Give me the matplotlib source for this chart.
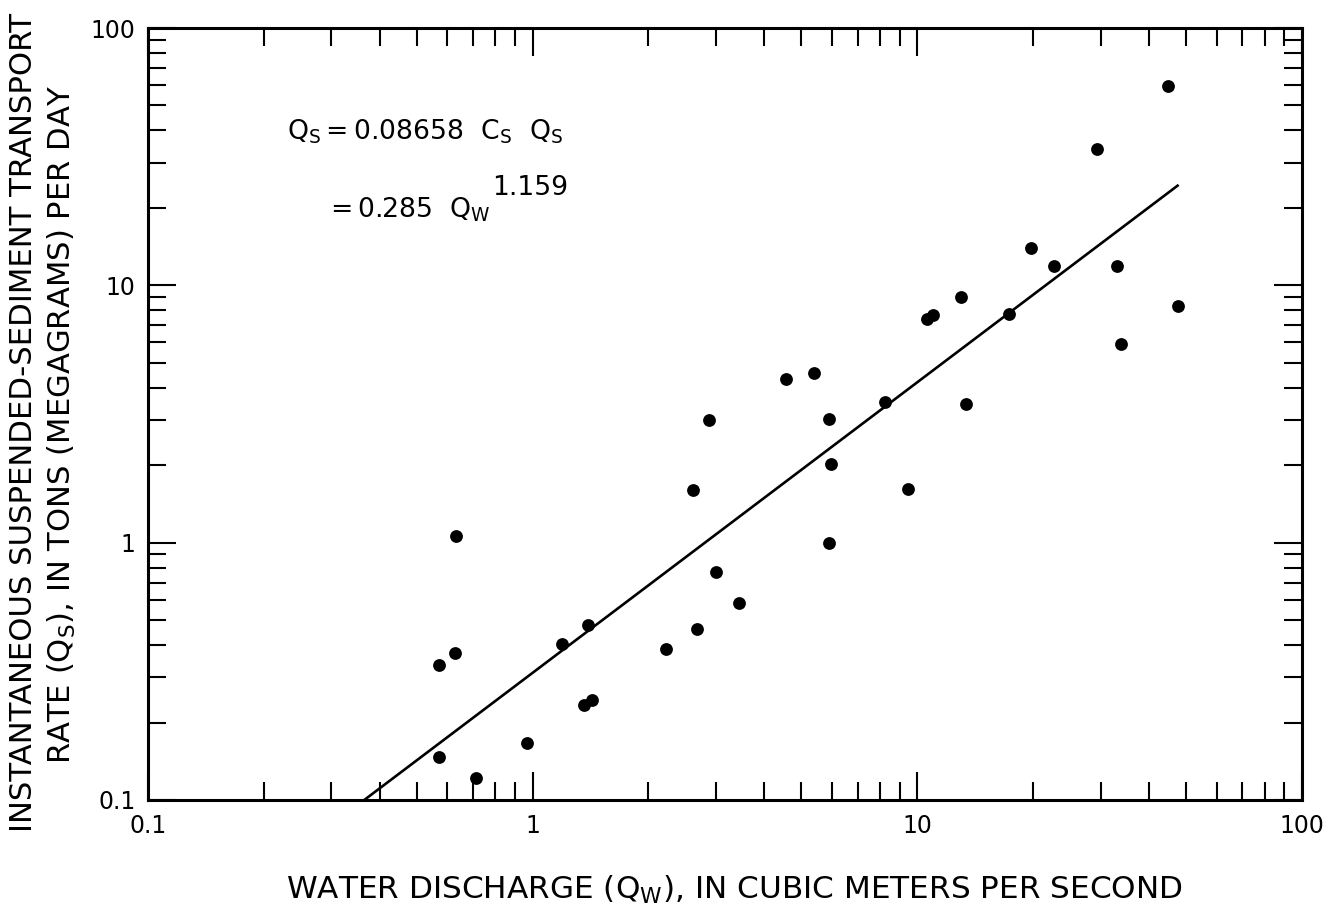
import matplotlib
matplotlib.use("Agg")
from matplotlib import pyplot as plt
from matplotlib.ticker import FixedLocator, FixedFormatter, LogLocator, NullFormatter

# water discharge (m3/s) and suspended-sediment transport (Mg/day)
discharge = [0.57, 0.571, 0.631, 0.628, 0.711, 0.969, 1.19, 1.39, 1.36, 1.43,
             2.22, 2.61, 2.67, 2.88, 2.99, 3.45, 4.55, 5.38, 5.89, 5.96,
             5.9, 8.24, 9.44, 10.6, 11.0, 13.0, 13.4, 17.3, 19.8, 22.7,
             29.3, 33.0, 33.8, 44.9, 47.5]
sediment = [0.335, 0.147, 1.06, 0.374, 0.122, 0.166, 0.404, 0.478, 0.234, 0.244,
            0.386, 1.60, 0.462, 3.0, 0.771, 0.584, 4.32, 4.58, 3.03, 2.02,
            1.0, 3.52, 1.61, 7.4, 7.67, 9.04, 3.47, 7.72, 14.0, 11.9,
            33.9, 11.9, 5.92, 59.6, 8.34]

# regression line ends, as drawn
fit_x = [0.365, 47.5]
fit_y = [0.1, 24.4]

ticks = [0.1, 1, 10, 100]
tick_labels = ['0.1', '1', '10', '100']

plt.rcParams['font.family'] = ['DejaVu Sans']
plt.rcParams['mathtext.fontset'] = 'dejavusans'

fig = plt.figure(figsize=(13.33, 9.1), dpi=100)
ax = fig.add_axes([0.111, 0.1209, 0.8657, 0.8483])

ax.scatter(discharge, sediment, s=85, c='black', zorder=3, linewidths=0)
ax.plot(fit_x, fit_y, c='black', lw=1.9)

ax.set_xscale('log')
ax.set_yscale('log')
ax.set_xlim(0.1, 100)
ax.set_ylim(0.1, 100)

for axis in (ax.xaxis, ax.yaxis):
    axis.set_major_locator(FixedLocator(ticks))
    axis.set_major_formatter(FixedFormatter(tick_labels))
    axis.set_minor_locator(LogLocator(base=10, subs=range(2, 10)))
    axis.set_minor_formatter(NullFormatter())

ax.tick_params(which='both', direction='in', top=True, right=True, width=1.5, labelsize=17)
ax.tick_params(which='major', length=20)
ax.tick_params(which='minor', length=13)
ax.tick_params(axis='x', which='major', pad=10)
ax.tick_params(axis='y', which='major', pad=9)
for sp in ax.spines.values():
    sp.set_linewidth(2.2)

t1 = ax.text(0.1205, 0.855, r'$\mathregular{Q_S = 0.08658\ \ C_S\ \ Q_S}$', transform=ax.transAxes,
             fontsize=19, va='baseline', ha='left')
t2 = ax.text(0.1534, 0.755, r'$\mathregular{=0.285\ \ Q_W}$', transform=ax.transAxes,
             fontsize=19, va='baseline', ha='left')

xl = fig.text(0.5506, 0.0121, r'WATER DISCHARGE $\mathregular{(Q_W)}$, IN CUBIC METERS PER SECOND',
              ha='center', va='baseline', fontsize=20)
yl1 = fig.text(0.0173, 0.5352, 'INSTANTANEOUS SUSPENDED-SEDIMENT TRANSPORT',
               ha='center', va='center', rotation=90, fontsize=20)
yl2 = fig.text(0.0465, 0.533, r'RATE $\mathregular{(Q_S)}$, IN TONS (MEGAGRAMS) PER DAY',
               ha='center', va='center', rotation=90, fontsize=20)

# size the texts to the lengths they take in the original figure (pixels)
renderer = fig.canvas.get_renderer()
for t, length in [(t1, 276), (xl, 896), (yl1, 820), (yl2, 680)]:
    bb = t.get_window_extent(renderer)
    t.set_fontsize(t.get_fontsize() * length / max(bb.width, bb.height))
t2.set_fontsize(t1.get_fontsize())

ax.annotate('1.159', xy=(1.0, 0.7837), xycoords=(t2, 'axes fraction'), xytext=(1, 0),
            textcoords='offset points', fontsize=t1.get_fontsize(), va='baseline', ha='left')

fig.savefig('out.png', dpi=100)
